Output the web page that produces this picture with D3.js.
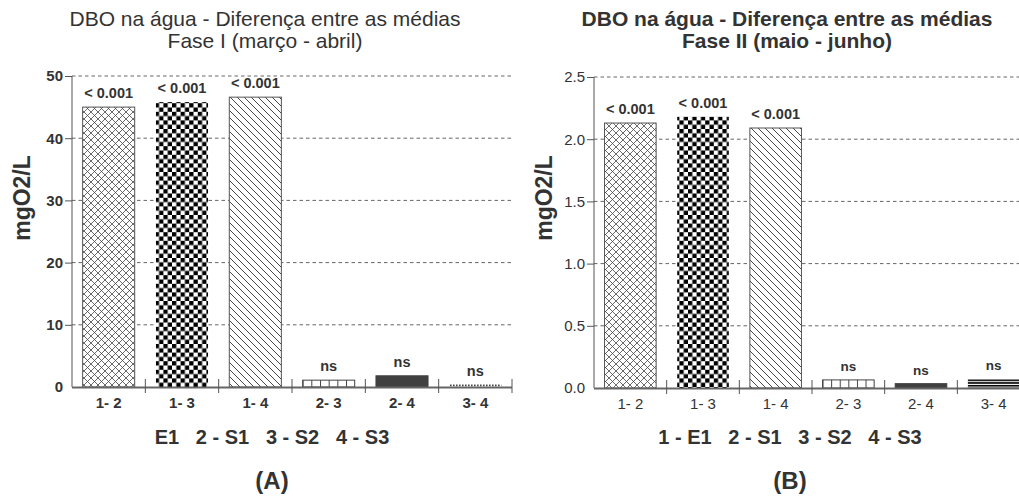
<!DOCTYPE html>
<html>
<head>
<meta charset="utf-8">
<script src="https://cdn.jsdelivr.net/npm/d3@7"></script>
<style>
  body { margin: 0; background: #fff; }
  svg { display: block; font-family: "Liberation Sans", Arial, sans-serif; }
  text { fill: #333; }
</style>
</head>
<body>
<script>
// comparisons between sampling points
var pairs = ["1- 2", "1- 3", "1- 4", "2- 3", "2- 4", "3- 4"];
// mean differences, mg O2/L
var faseI = [45.0, 45.8, 46.6, 1.1, 1.8, 0.4];
var faseII = [2.13, 2.18, 2.09, 0.065, 0.035, 0.072];
var pvalI = ["< 0.001", "< 0.001", "< 0.001", "ns", "ns", "ns"];
var pvalII = ["< 0.001", "< 0.001", "< 0.001", "ns", "ns", "ns"];
var ticksI = [0, 10, 20, 30, 40, 50];
var ticksII = [0, 0.5, 1.0, 1.5, 2.0, 2.5];

var svg = d3.select("body").append("svg")
    .attr("width", 1019)
    .attr("height", 497);

var defs = svg.append("defs");

// cross hatch
var p = defs.append("pattern").attr("id", "cross").attr("patternUnits", "userSpaceOnUse")
    .attr("width", 7).attr("height", 7);
p.append("rect").attr("width", 7).attr("height", 7).attr("fill", "#fff");
p.append("path").attr("d", "M0,0L7,7M7,0L0,7").attr("stroke", "#444").attr("stroke-width", 0.8);

// checkerboard
p = defs.append("pattern").attr("id", "checker").attr("patternUnits", "userSpaceOnUse")
    .attr("width", 8.6).attr("height", 8.6);
p.append("rect").attr("width", 8.6).attr("height", 8.6).attr("fill", "#fff");
p.append("rect").attr("width", 4.3).attr("height", 4.3).attr("fill", "#000");
p.append("rect").attr("x", 4.3).attr("y", 4.3).attr("width", 4.3).attr("height", 4.3).attr("fill", "#000");

// diagonal hatch
p = defs.append("pattern").attr("id", "diag").attr("patternUnits", "userSpaceOnUse")
    .attr("width", 7).attr("height", 7);
p.append("rect").attr("width", 7).attr("height", 7).attr("fill", "#fff");
p.append("path").attr("d", "M-1,-1L8,8M-1,6L1,8M6,-1L8,1").attr("stroke", "#333").attr("stroke-width", 0.9);

// little cells
p = defs.append("pattern").attr("id", "cells").attr("patternUnits", "objectBoundingBox")
    .attr("width", 1 / 6).attr("height", 1);
p.append("rect").attr("width", 20).attr("height", 40).attr("fill", "#fff");
p.append("line").attr("x1", 0.5).attr("x2", 0.5).attr("y1", 0).attr("y2", 40)
    .attr("stroke", "#444").attr("stroke-width", 1);

// dotted line
p = defs.append("pattern").attr("id", "dots").attr("patternUnits", "userSpaceOnUse")
    .attr("width", 3).attr("height", 40).attr("y", 384.3);
p.append("rect").attr("width", 1.6).attr("height", 1.6).attr("fill", "#000");

// triple lines
p = defs.append("pattern").attr("id", "lines3").attr("patternUnits", "userSpaceOnUse")
    .attr("width", 10).attr("height", 2.7).attr("y", 379.5);
p.append("rect").attr("width", 10).attr("height", 1.6).attr("fill", "#000");

function draw(cfg) {
    var x = d3.scaleBand().domain(pairs).range([cfg.x0, cfg.x1])
        .paddingInner(0.29).paddingOuter(0.145);
    var y = d3.scaleLinear().domain([0, cfg.ticks[cfg.ticks.length - 1]])
        .range([cfg.y0, cfg.yTop]);
    var g = svg.append("g");

    // dashed grid
    g.append("g").selectAll("line")
        .data(cfg.ticks.filter(function(t){ return t > 0; }))
        .enter().append("line")
        .attr("x1", cfg.x0).attr("x2", cfg.x1)
        .attr("y1", function(d){ return y(d); }).attr("y2", function(d){ return y(d); })
        .attr("stroke", "#666").attr("stroke-dasharray", "3.5,3");

    // y axis
    var yAxis = g.append("g").attr("transform", "translate(" + cfg.x0 + ",0)")
        .call(d3.axisLeft(y).tickValues(cfg.ticks).tickSize(7).tickPadding(2)
            .tickFormat(cfg.fmt));
    yAxis.select(".domain").attr("stroke", "#555").attr("d", "M0," + cfg.yTop + "V" + cfg.y0);
    yAxis.selectAll(".tick line").attr("stroke", "#555")
        .filter(function(d){ return d === 0; }).remove();
    yAxis.selectAll(".tick text").attr("fill", "#333")
        .style("font-size", cfg.yFont + "px").style("font-weight", cfg.bold ? "bold" : "normal");

    // bars
    g.append("g").selectAll("rect")
        .data(cfg.values)
        .enter().append("rect")
        .attr("x", function(d, i){ return x(pairs[i]); })
        .attr("y", function(d){ return y(d); })
        .attr("width", x.bandwidth())
        .attr("height", function(d){ return cfg.y0 - y(d); })
        .attr("fill", function(d, i){ return cfg.fills[i]; })
        .attr("stroke", function(d, i){ return cfg.strokes[i]; })
        .attr("stroke-width", 1);

    // p value labels
    g.append("g").selectAll("text")
        .data(cfg.values)
        .enter().append("text")
        .attr("x", function(d, i){ return x(pairs[i]) + x.bandwidth() / 2; })
        .attr("y", function(d){ return y(d) - 9; })
        .attr("text-anchor", "middle")
        .style("font-size", function(d, i){ return (i < 3 ? 14.5 : cfg.nsFont) + "px"; })
        .style("font-weight", "bold")
        .text(function(d, i){ return cfg.pvals[i]; });

    // x axis baseline with separators
    var step = x.step();
    g.append("line").attr("x1", cfg.x0).attr("x2", cfg.x1)
        .attr("y1", cfg.y0 + 0.5).attr("y2", cfg.y0 + 0.5)
        .attr("stroke", "#666").attr("stroke-width", 2);
    g.append("g").selectAll("line")
        .data(pairs)
        .enter().append("line")
        .attr("x1", function(d){ return x(d) - step * 0.145 + step; })
        .attr("x2", function(d){ return x(d) - step * 0.145 + step; })
        .attr("y1", cfg.y0 - 8).attr("y2", cfg.y0 + 6)
        .attr("stroke", "#555");
    g.append("g").selectAll("text")
        .data(pairs)
        .enter().append("text")
        .attr("x", function(d){ return x(d) + x.bandwidth() / 2; })
        .attr("y", cfg.y0 + 21)
        .attr("text-anchor", "middle")
        .style("font-size", cfg.xFont + "px")
        .style("font-weight", cfg.bold ? "bold" : "normal")
        .text(function(d){ return d; });

    // titles
    g.append("text").attr("x", cfg.cx).attr("y", 26).attr("text-anchor", "middle")
        .style("font-size", "21px").style("font-weight", cfg.bold ? "normal" : "bold")
        .text("DBO na água - Diferença entre as médias");
    g.append("text").attr("x", cfg.cx).attr("y", 48).attr("text-anchor", "middle")
        .style("font-size", "21px").style("font-weight", cfg.bold ? "normal" : "bold")
        .text(cfg.sub);

    // y label
    g.append("text")
        .attr("transform", "translate(" + cfg.ylx + ",198) rotate(-90)")
        .attr("text-anchor", "middle")
        .style("font-size", "23px").style("font-weight", "bold")
        .text("mgO2/L");

    // legend & panel letter
    g.append("text").attr("x", cfg.lx).attr("y", 444).attr("text-anchor", "middle")
        .attr("xml:space", "preserve").style("white-space", "pre")
        .style("font-size", "20px").style("font-weight", "bold")
        .text(cfg.legend);
    g.append("text").attr("x", cfg.lx).attr("y", 489).attr("text-anchor", "middle")
        .style("font-size", "24px").style("font-weight", "bold")
        .text(cfg.letter);
}

draw({
    values: faseI, pvals: pvalI, ticks: ticksI,
    x0: 72, x1: 512, y0: 387, yTop: 76,
    fmt: d3.format("d"), yFont: 15, xFont: 15, bold: true, nsFont: 14.5,
    fills: ["url(#cross)", "url(#checker)", "url(#diag)", "url(#cells)", "#404040", "url(#dots)"],
    strokes: ["#555", "none", "#555", "#444", "#404040", "none"],
    cx: 265, sub: "Fase I (março - abril)", ylx: 30,
    lx: 272, legend: "E1   2 - S1   3 - S2   4 - S3", letter: "(A)"
});

draw({
    values: faseII, pvals: pvalII, ticks: ticksII,
    x0: 594, x1: 1030, y0: 388, yTop: 77,
    fmt: d3.format(".1f"), yFont: 15, xFont: 15, bold: false, nsFont: 13.5,
    fills: ["url(#cross)", "url(#checker)", "url(#diag)", "url(#cells)", "#404040", "url(#lines3)"],
    strokes: ["#555", "none", "#555", "#444", "#404040", "none"],
    cx: 787, sub: "Fase II (maio - junho)", ylx: 552,
    lx: 790, legend: "1 - E1   2 - S1   3 - S2   4 - S3", letter: "(B)"
});
</script>
</body>
</html>
